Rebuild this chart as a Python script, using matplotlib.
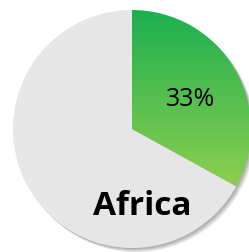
import numpy as np
import matplotlib.pyplot as plt
from matplotlib.colors import LinearSegmentedColormap

values = [33, 67]
pct_label = "33%"
region = "Africa"

W, H = 249, 253
fig = plt.figure(figsize=(W / 100, H / 100), dpi=100)
ax = fig.add_axes([0, 0, 1, 1])

cx, cy, r = 132, 123, 119

# soft shadow down-right
for i in range(5):
    sh = plt.Circle((cx + 1 + i * 0.8, cy - 1 - i * 0.8), r, color="black",
                    alpha=0.07, lw=0)
    ax.add_patch(sh)

wedges, _ = ax.pie(values, startangle=90, counterclock=False, center=(cx, cy),
                   radius=r, colors=["none", "#E6E6E6"],
                   wedgeprops=dict(linewidth=0))

# vertical gradient for the first slice
green = LinearSegmentedColormap.from_list("g", ["#1CAF4F", "#92D050"])
grad = np.linspace(0, 1, 256).reshape(-1, 1)
top = cy + r
bottom = cy - r * 0.55
im = ax.imshow(grad, cmap=green, aspect="auto",
               extent=(cx, cx + r, bottom, top), origin="upper", zorder=2)
im.set_clip_path(wedges[0])

ax.text(191, H - 99, pct_label, fontsize=18, ha="center", va="center",
        family="Open Sans", zorder=3)
ax.text(142, H - 207, region, fontsize=24, fontweight="bold", ha="center",
        va="center", family="Open Sans", zorder=3)

ax.set_xlim(0, W)
ax.set_ylim(0, H)
ax.set_aspect("auto")
ax.axis("off")
fig.savefig("out.png", dpi=100)
